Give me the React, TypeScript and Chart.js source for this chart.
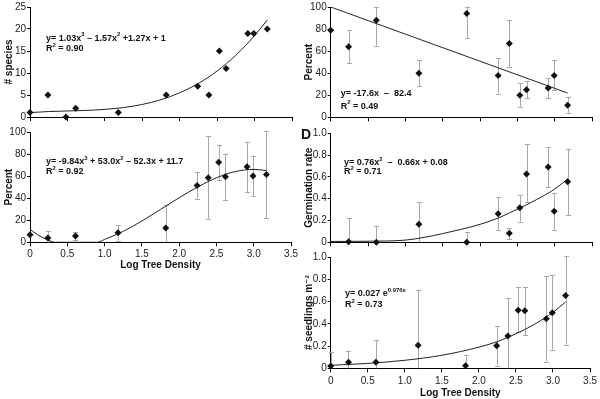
import React, { useEffect, useRef } from "react";
import { Chart, registerables } from "chart.js";
Chart.register(...registerables);

const FONT = "'Liberation Sans', Arial, 'DejaVu Sans', sans-serif";

// ---------- data ----------
const densityX = [0, 0.24, 0.61, 1.18, 1.82, 2.24, 2.39, 2.53, 2.62, 2.91, 2.99, 3.17];
const speciesX = [0, 0.24, 0.48, 0.61, 1.18, 1.82, 2.24, 2.39, 2.53, 2.62, 2.91, 2.99, 3.17];

// A: number of species
const speciesCount = [1, 5, 0, 2, 1, 5, 7, 5, 15, 11, 19, 19, 20];
const speciesFitX = [0, 0.25, 0.5, 0.75, 1, 1.25, 1.5, 1.75, 2, 2.25, 2.5, 2.75, 3, 3.17];
const speciesFitY = [1, 1.24, 1.37, 1.5, 1.73, 2.15, 2.85, 3.93, 5.5, 7.64, 10.46, 14.04, 18.49, 22.06];

// B: percent (left bottom)
const percentB = [6.9, 3.9, 5.7, 8.7, 13, 51.5, 58.5, 72.5, 59.5, 68.5, 60, 61.5];
const percentBLow = [null, 0, 2, 1.5, 0, 39.5, 21.5, 56.5, 38.5, 45.5, 42, 22];
const percentBHigh = [null, 10, 9.5, 15.5, 33.5, 63.5, 96, 88.5, 80.5, 91, 78.5, 101];
const percentBFitX = [0, 0.1, 0.2, 0.3, 0.34, 0.9, 1, 1.25, 1.5, 1.75, 2, 2.25, 2.5, 2.75, 3, 3.17];
const percentBFitY = [11.7, 7, 3.3, 0.5, 0, 0, 2.6, 9.9, 19.3, 29.8, 40.4, 50.2, 58.5, 64.1, 66.1, 65.1];

// C: percent (right top)
const percentC = [79, 64, 88, 40, 94, 38, 67, 20, 25, 26.5, 38, 11];
const percentCLow = [null, 49, 65, 28, 72, 21.5, 46, 9.6, 17.3, 17.3, 24.5, 3.6];
const percentCHigh = [null, 79, 100, 51.6, 100, 53.7, 88, 31, 32.8, 35.5, 51.6, 18.8];
const percentCFitX = [0, 3.17];
const percentCFitY = [100, 22];

// D: germination rate
const germRate = [null, 0.005, 0, 0.165, 0, 0.262, 0.082, 0.317, 0.627, 0.69, 0.284, 0.556];
const germLow = [null, 0, 0, 0, 0, 0.11, 0.03, 0.19, 0.372, 0.507, 0.11, 0.25];
const germHigh = [null, 0.225, 0.15, 0.367, 0.097, 0.418, 0.128, 0.434, 0.902, 0.872, 0.455, 0.859];
const germFitX = [0, 0.5, 1, 1.25, 1.5, 1.75, 2, 2.25, 2.5, 2.75, 3, 3.17];
const germFitY = [0.008, 0.01, 0.02, 0.045, 0.08, 0.12, 0.165, 0.225, 0.305, 0.39, 0.49, 0.58];

// E: seedlings per m2
const seedlings = [0.02, 0.054, 0.054, 0.206, 0.024, 0.203, 0.29, 0.522, 0.516, 0.445, 0.5, 0.654];
const seedLow = [0, 0, 0, 0, 0, 0.024, 0, 0.33, 0.296, 0.06, 0.167, 0.212];
const seedHigh = [0.15, 0.158, 0.254, 0.707, 0.12, 0.382, 0.633, 0.731, 0.731, 0.827, 0.836, 1.01];
const seedFitX = [0, 0.5, 1, 1.5, 2, 2.25, 2.5, 2.75, 3, 3.17];
const seedFitY = [0.027, 0.044, 0.072, 0.117, 0.19, 0.24, 0.31, 0.395, 0.503, 0.596];

const xTitle = "Log Tree Density";

// ---------- panel specs ----------
type Panel = {
  left: number; top: number; w: number; h: number;
  xs: number[]; ys: (number | null)[];
  low?: (number | null)[]; high?: (number | null)[];
  fitX: number[]; fitY: number[];
  yMax: number; yStep: number; yDecimals: boolean;
  yTitle: string;
  showX: boolean;
  padTop: number; padRight: number; xH: number; yW: number;
  tickPad: number; titlePadBottom: number;
  eq: { x: number; y: number; text: string }[];
  letter?: { x: number; y: number; text: string };
};

const panels: Panel[] = [
  {
    left: 0, top: 0, w: 300, h: 125,
    xs: speciesX, ys: speciesCount, fitX: speciesFitX, fitY: speciesFitY,
    yMax: 25, yStep: 5, yDecimals: false, yTitle: "# species", showX: false,
    padTop: 6, padRight: 8, xH: 8, yW: 30, tickPad: 2, titlePadBottom: 0,
    eq: [
      { x: 46, y: 38.3, text: "y= 1.03x^{3} \u2013 1.57x^{2} +1.27x + 1" },
      { x: 46, y: 49, text: "R^{2} = 0.90" },
    ],
  },
  {
    left: 0, top: 125, w: 300, h: 150,
    xs: densityX, ys: percentB, low: percentBLow, high: percentBHigh,
    fitX: percentBFitX, fitY: percentBFitY,
    yMax: 100, yStep: 20, yDecimals: false, yTitle: "Percent", showX: true,
    padTop: 5.7, padRight: 8, xH: 32.7, yW: 30, tickPad: 2, titlePadBottom: 3.5,
    eq: [
      { x: 46, y: 37, text: "y= -9.84x^{3} + 53.0x^{2} \u2013 52.3x + 11.7" },
      { x: 46, y: 47, text: "R^{2} = 0.92" },
    ],
  },
  {
    left: 300, top: 0, w: 300, h: 125,
    xs: densityX, ys: percentC, low: percentCLow, high: percentCHigh,
    fitX: percentCFitX, fitY: percentCFitY,
    yMax: 100, yStep: 20, yDecimals: false, yTitle: "Percent", showX: false,
    padTop: 5.7, padRight: 7.7, xH: 7.7, yW: 30.7, tickPad: 2, titlePadBottom: 0,
    eq: [
      { x: 40.7, y: 94, text: "y= -17.6x  \u2013  82.4" },
      { x: 40.7, y: 106.3, text: "R^{2} = 0.49" },
    ],
  },
  {
    left: 300, top: 125, w: 300, h: 125,
    xs: densityX, ys: germRate, low: germLow, high: germHigh,
    fitX: germFitX, fitY: germFitY,
    yMax: 1, yStep: 0.2, yDecimals: true, yTitle: "Germination rate", showX: false,
    padTop: 8.3, padRight: 7.7, xH: 7.7, yW: 30.7, tickPad: 2, titlePadBottom: 0,
    eq: [
      { x: 44, y: 37.7, text: "y= 0.76x^{2}  \u2013  0.66x + 0.08" },
      { x: 44, y: 46.7, text: "R^{2} = 0.71" },
    ],
    letter: { x: 1, y: 14, text: "D" },
  },
  {
    left: 300, top: 250, w: 300, h: 149,
    xs: densityX, ys: seedlings, low: seedLow, high: seedHigh,
    fitX: seedFitX, fitY: seedFitY,
    yMax: 1, yStep: 0.2, yDecimals: true, yTitle: "# seedlings m\u207B\u00B2", showX: true,
    padTop: 6.7, padRight: 7.7, xH: 30.7, yW: 30.7, tickPad: 3, titlePadBottom: 0,
    eq: [
      { x: 45, y: 44, text: "y= 0.027 e^{0.976x}" },
      { x: 45, y: 55, text: "R^{2} = 0.73" },
    ],
  },
];

// ---------- drawing helpers ----------
function drawRich(ctx: CanvasRenderingContext2D, text: string, x: number, y: number, size: number) {
  const parts = text.split(/(\^\{[^}]*\})/);
  let cx = x;
  ctx.textBaseline = "middle";
  ctx.textAlign = "left";
  for (const part of parts) {
    if (!part) continue;
    if (part.startsWith("^{")) {
      const t = part.slice(2, -1);
      ctx.font = `bold ${size * 0.65}px ${FONT}`;
      ctx.fillText(t, cx, y - size * 0.38);
      cx += ctx.measureText(t).width;
    } else {
      ctx.font = `bold ${size}px ${FONT}`;
      ctx.fillText(part, cx, y);
      cx += ctx.measureText(part).width;
    }
  }
}

function makePlugins(p: Panel) {
  const errorBars = {
    id: "errorBars",
    beforeDatasetsDraw(chart: any) {
      if (!p.low || !p.high) return;
      const ctx = chart.ctx as CanvasRenderingContext2D;
      const xs = chart.scales.x, ys = chart.scales.y;
      ctx.save();
      ctx.strokeStyle = "#a8a8a8";
      ctx.lineWidth = 1;
      for (let i = 0; i < p.xs.length; i++) {
        const lo = p.low[i], hi = p.high[i];
        if (lo == null || hi == null) continue;
        const px = Math.round(xs.getPixelForValue(p.xs[i])) + 0.5;
        const y0 = ys.getPixelForValue(lo);
        const y1 = ys.getPixelForValue(hi);
        ctx.beginPath();
        ctx.moveTo(px, y0); ctx.lineTo(px, y1);
        ctx.moveTo(px - 2.5, Math.round(y1) + 0.5); ctx.lineTo(px + 2.5, Math.round(y1) + 0.5);
        if (lo > 0) { ctx.moveTo(px - 2.5, Math.round(y0) + 0.5); ctx.lineTo(px + 2.5, Math.round(y0) + 0.5); }
        ctx.stroke();
      }
      ctx.restore();
    },
  };
  const texts = {
    id: "eqText",
    afterDraw(chart: any) {
      const ctx = chart.ctx as CanvasRenderingContext2D;
      ctx.save();
      ctx.fillStyle = "#111";
      for (const e of p.eq) drawRich(ctx, e.text, e.x, e.y, 9);
      if (p.letter) {
        ctx.font = `bold 14px ${FONT}`;
        ctx.textBaseline = "alphabetic";
        ctx.textAlign = "left";
        ctx.fillText(p.letter.text, p.letter.x, p.letter.y);
      }
      ctx.restore();
    },
  };
  return [errorBars, texts];
}

function makeConfig(p: Panel): any {
  const pts = p.xs
    .map((x, i) => ({ x, y: p.ys[i] }))
    .filter((d) => d.y != null);
  const fit = p.fitX.map((x, i) => ({ x, y: p.fitY[i] }));
  return {
    type: "scatter",
    data: {
      datasets: [
        {
          type: "scatter",
          data: pts,
          pointStyle: "rectRot",
          pointRadius: 3.5,
          backgroundColor: "#111",
          borderColor: "#111",
          borderWidth: 0,
          clip: false,
          order: 0,
        },
        {
          type: "line",
          data: fit,
          borderColor: "#222",
          borderWidth: 1,
          pointRadius: 0,
          cubicInterpolationMode: "monotone",
          fill: false,
          order: 1,
        },
      ],
    },
    options: {
      responsive: false,
      animation: false,
      events: [],
      layout: { padding: { top: p.padTop, right: p.padRight, left: 0, bottom: 0 } },
      plugins: { legend: { display: false }, tooltip: { enabled: false } },
      scales: {
        x: {
          type: "linear",
          min: 0,
          max: 3.5,
          ticks: {
            stepSize: 0.5,
            display: p.showX,
            font: { family: FONT, size: 10 },
            color: "#222",
            padding: p.tickPad,
            maxRotation: 0,
          },
          grid: { drawOnChartArea: false, tickLength: 4, color: "#000" },
          border: { color: "#000", width: 1 },
          title: {
            display: p.showX,
            text: xTitle,
            color: "#111",
            font: { family: FONT, size: 10, weight: "bold" },
            padding: { top: 0, bottom: p.titlePadBottom },
          },
          afterFit: (s: any) => { s.height = p.xH; },
        },
        y: {
          type: "linear",
          min: 0,
          max: p.yMax,
          ticks: {
            stepSize: p.yStep,
            font: { family: FONT, size: 10 },
            color: "#222",
            padding: 1,
            callback: (v: number) => (p.yDecimals ? (v === 0 ? "0" : Number(v).toFixed(1)) : String(v)),
          },
          grid: { drawOnChartArea: false, tickLength: 3, color: "#000" },
          border: { color: "#000", width: 1 },
          title: {
            display: true,
            text: p.yTitle,
            color: "#111",
            font: { family: FONT, size: 10, weight: "bold" },
            padding: { top: 3, bottom: 0 },
          },
          afterFit: (s: any) => { s.width = p.yW; },
        },
      },
    },
    plugins: makePlugins(p),
  };
}

function PanelChart({ p }: { p: Panel }) {
  const ref = useRef<HTMLCanvasElement>(null);
  useEffect(() => {
    if (!ref.current) return;
    const chart = new Chart(ref.current, makeConfig(p));
    return () => chart.destroy();
  }, [p]);
  return (
    <canvas
      ref={ref}
      width={p.w}
      height={p.h}
      style={{ position: "absolute", left: p.left, top: p.top, width: p.w, height: p.h }}
    />
  );
}

export default function App() {
  return (
    <div style={{ position: "absolute", left: 0, top: 0, width: 600, height: 399, background: "#fff", overflow: "hidden" }}>
      {panels.map((p, i) => (
        <PanelChart key={i} p={p} />
      ))}
    </div>
  );
}
